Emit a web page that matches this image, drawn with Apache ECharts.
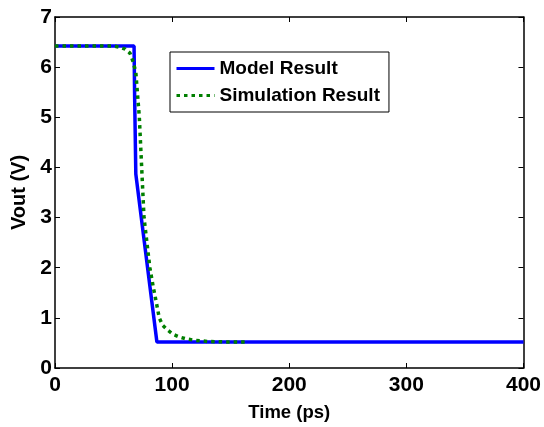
<!DOCTYPE html>
<html>
<head>
<meta charset="utf-8">
<script src="https://cdn.jsdelivr.net/npm/echarts@6/dist/echarts.min.js"></script>
<style>
  html, body { margin: 0; padding: 0; background: #fff; }
  #chart { width: 544px; height: 427px; }
</style>
</head>
<body>
<div id="chart"></div>
<script>
// Time (ps) / Vout (V) pairs
const modelTime = [0, 67.5, 68, 69, 87, 400];
const modelVout = [6.42, 6.42, 5.4, 3.87, 0.52, 0.52];

const simTime = [0, 50, 55, 60, 64, 66.5, 69, 72, 74, 76, 79, 81, 84, 87, 89, 92, 96, 101, 106, 112, 120, 130, 145, 165];
const simVout = [6.42, 6.42, 6.4, 6.36, 6.28, 6.12, 5.9, 5.0, 4.0, 3.0, 2.4, 2.0, 1.6, 1.25, 1.0, 0.85, 0.76, 0.67, 0.62, 0.58, 0.55, 0.53, 0.52, 0.52];

const xTicks = [0, 100, 200, 300, 400];
const yTicks = [0, 1, 2, 3, 4, 5, 6, 7];

const font = 'Liberation Sans, Arial, sans-serif';

const zip = (xs, ys) => xs.map((x, i) => [x, ys[i]]);

const chart = echarts.init(document.getElementById('chart'));

const baseX = {
    type: 'value',
    min: xTicks[0],
    max: xTicks[xTicks.length - 1],
    interval: 100,
    axisLine: {show: true, onZero: false, lineStyle: {color: '#000', width: 1.5}},
    axisTick: {show: true, inside: true, length: 5, lineStyle: {color: '#000'}},
    splitLine: {show: false},
};
const baseY = {
    type: 'value',
    min: yTicks[0],
    max: yTicks[yTicks.length - 1],
    interval: 1,
    axisLine: {show: true, onZero: false, lineStyle: {color: '#000', width: 1.5}},
    axisTick: {show: true, inside: true, length: 5, lineStyle: {color: '#000'}},
    splitLine: {show: false},
};

chart.setOption({
    animation: false,
    backgroundColor: '#fff',
    grid: {left: 55, right: 16, top: 17, bottom: 59},
    legend: {
        left: 170,
        top: 52,
        orient: 'vertical',
        backgroundColor: '#fff',
        borderColor: '#000',
        borderWidth: 1,
        padding: [7, 9, 7, 5],
        itemGap: 8,
        itemWidth: 38,
        itemHeight: 14,
        itemStyle: {opacity: 0},
        lineStyle: {width: 3},
        textStyle: {fontFamily: font, fontWeight: 'bold', fontSize: 19, color: '#000'},
        data: ['Model Result', 'Simulation Result'],
    },
    xAxis: [
        {
            ...baseX,
            position: 'bottom',
            name: 'Time (ps)',
            nameLocation: 'middle',
            nameGap: 35,
            nameTextStyle: {fontFamily: font, fontWeight: 'bold', fontSize: 18.5, color: '#000'},
            axisLabel: {margin: 7, fontFamily: font, fontWeight: 'bold', fontSize: 21, color: '#000'},
        },
        {...baseX, position: 'top', axisLabel: {show: false}},
    ],
    yAxis: [
        {
            ...baseY,
            position: 'left',
            name: 'Vout (V)',
            nameLocation: 'middle',
            nameGap: 17,
            nameTextStyle: {fontFamily: font, fontWeight: 'bold', fontSize: 20, color: '#000'},
            axisLabel: {margin: 3, fontFamily: font, fontWeight: 'bold', fontSize: 21, color: '#000'},
        },
        {...baseY, position: 'right', axisLabel: {show: false}},
    ],
    series: [
        {
            name: 'Model Result',
            type: 'line',
            symbol: 'none',
            color: '#0000ff',
            lineStyle: {color: '#0000ff', width: 3.5},
            data: zip(modelTime, modelVout),
            z: 2,
        },
        {
            name: 'Simulation Result',
            type: 'line',
            symbol: 'none',
            color: '#007f00',
            lineStyle: {color: '#007f00', width: 3.5, type: [3.5, 4], cap: 'butt'},
            data: zip(simTime, simVout),
            z: 3,
        },
    ],
});
</script>
</body>
</html>
